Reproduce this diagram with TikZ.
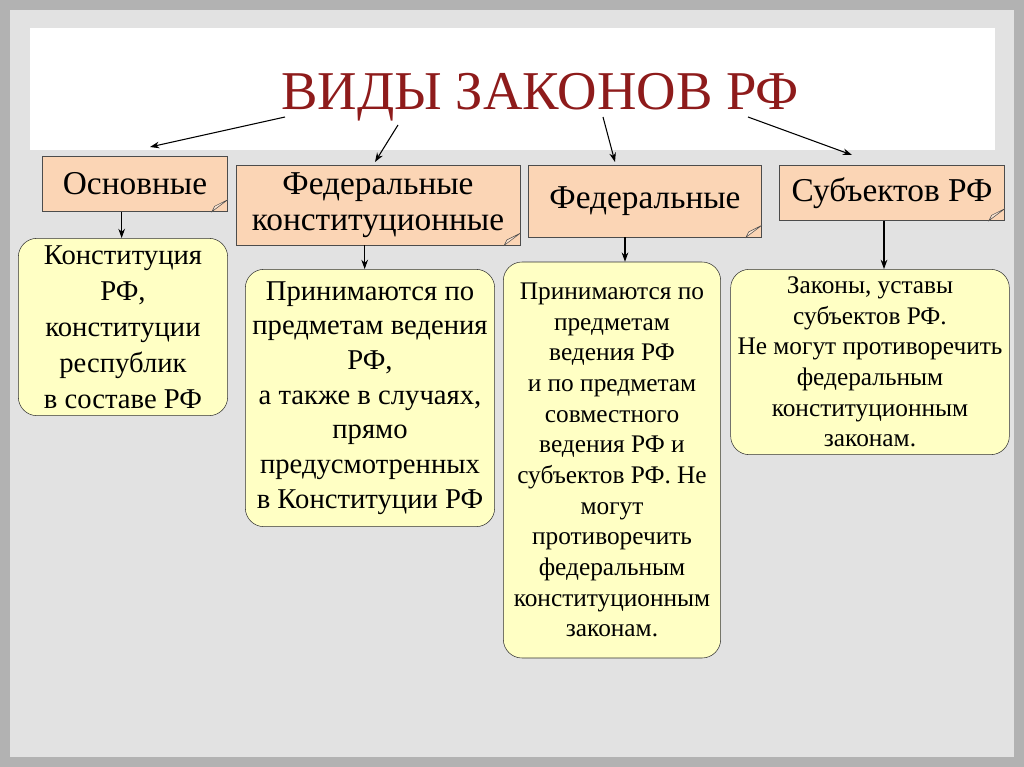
\documentclass[tikz,border=0pt]{standalone}
\usepackage{fontspec}
\setmainfont{Liberation Serif}
\usetikzlibrary{positioning,arrows.meta}
\definecolor{peach}{HTML}{FBD5B5}
\definecolor{lemon}{HTML}{FFFFC4}
\definecolor{titlered}{HTML}{8E1B1B}
\definecolor{slidegray}{HTML}{E2E2E2}
\tikzset{
  headbox/.style={draw=black!70, fill=peach, minimum height=#1, align=center, inner sep=1pt, font=\fontsize{25}{27}\selectfont},
  lawbox/.style={draw=black!80, fill=lemon, rounded corners=14pt, align=center, inner sep=1pt},
  fold/.style={fill=peach!60!white, draw=black!70},
  arr/.style={-{Stealth[length=7pt,width=5pt]}, thick}
}
\begin{document}
\begin{tikzpicture}[x=0.75pt,y=-0.75pt]
	\useasboundingbox (0,0) rectangle (1024,767);
	\fill[black!30] (0,0) rectangle (1024,767);
	\fill[slidegray] (10,10) rectangle (1014,757);
	\fill[white] (30,28) rectangle (995,150);
	
	\node[text=titlered, font=\fontsize{41}{44}\selectfont] (title) at (540,97) {ВИДЫ ЗАКОНОВ РФ};
	
	% header boxes
	\node[headbox=41pt, minimum width=139pt] (basic) at (135,184) {Основные};
	\node[headbox=60pt, minimum width=213pt] (fedconst) at (378,205) {Федеральные\\конституционные};
	\node[headbox=54pt, minimum width=175pt] (federal) at (645,201) {Федеральные};
	\node[headbox=41pt, minimum width=169pt] (subj) at (892,193) {Субъектов РФ};
	\foreach \b in {basic,fedconst,federal,subj}
		\draw[fold] ([xshift=-12pt]\b.south east) -- ([yshift=9pt]\b.south east) -- ([xshift=-10pt,yshift=4pt]\b.south east) -- cycle;
	
	% law boxes
	\node[lawbox, minimum width=157pt, minimum height=133pt, font=\fontsize{21.5}{27}\selectfont] (constit) at (123,327) {Конституция\\РФ,\\конституции\\республик\\в составе РФ};
	\node[lawbox, minimum width=187pt, minimum height=193pt, font=\fontsize{21.5}{26}\selectfont] (subject) at (370,398) {Принимаются по\\предметам ведения\\РФ,\\а также в случаях,\\прямо\\предусмотренных\\в Конституции РФ};
	\node[lawbox, minimum width=163pt, minimum height=297pt, font=\fontsize{19}{23}\selectfont] (joint) at (612,460) {Принимаются по\\предметам\\ведения РФ\\и по предметам\\совместного\\ведения РФ и\\субъектов РФ. Не\\могут\\противоречить\\федеральным\\конституционным\\законам.};
	\node[lawbox, minimum width=209pt, minimum height=139pt, font=\fontsize{19}{23}\selectfont] (regional) at (870,362) {Законы, уставы\\субъектов РФ.\\Не могут противоречить\\федеральным\\конституционным\\законам.};
	
	% arrows
	\coordinate (t1) at (285,117);
	\coordinate (t2) at (398,125);
	\coordinate (t3) at (603,117);
	\coordinate (t4) at (748,117);
	\draw[arr] (t1) -- (150,147);
	\draw[arr] (t2) -- (375,162);
	\draw[arr] (t3) -- (615,162);
	\draw[arr] (t4) -- (852,155);
	\draw[arr] ([xshift=-10pt]basic.south) -- ([xshift=-10pt]basic.south |- constit.north);
	\draw[arr] ([xshift=-10pt]fedconst.south) -- ([xshift=-10pt]fedconst.south |- subject.north);
	\draw[arr] ([xshift=-15pt]federal.south) -- ([xshift=-15pt]federal.south |- joint.north);
	\draw[arr] ([xshift=-6pt]subj.south) -- ([xshift=-6pt]subj.south |- regional.north);
\end{tikzpicture}
\end{document}
